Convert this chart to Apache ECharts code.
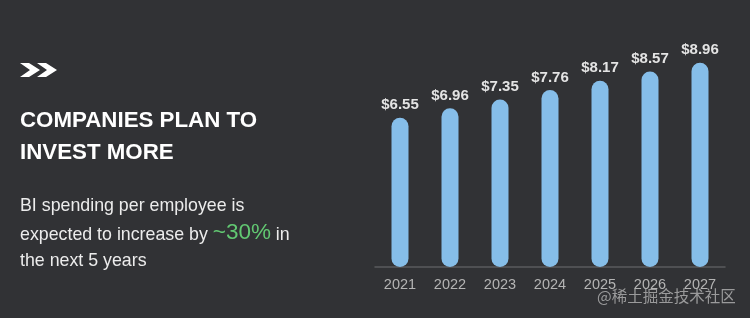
<!DOCTYPE html>
<html>
<head>
<meta charset="utf-8">
<script src="https://cdn.jsdelivr.net/npm/echarts@6/dist/echarts.min.js"></script>
<style>
html,body{margin:0;padding:0;background:#313235;}
#chart{width:750px;height:318px;}
</style>
</head>
<body>
<div id="chart"></div>
<script>
const years = ['2021','2022','2023','2024','2025','2026','2027'];
const spending = [6.55, 6.96, 7.35, 7.76, 8.17, 8.57, 8.96];
const titleLines = ['COMPANIES PLAN TO', 'INVEST MORE'];
const bodyLine1 = 'BI spending per employee is';
const bodyLine2a = 'expected to increase by ';
const highlight = '~30%';
const bodyLine2b = ' in';
const bodyLine3 = 'the next 5 years';
const watermark = '@稀土掘金技术社区';

const chart = echarts.init(document.getElementById('chart'), null, {renderer:'canvas'});
const font = '"Liberation Sans", Arial, sans-serif';
function chevron(x){
  return {type:'polygon', shape:{points:[[x,63],[x+9,63],[x+20,70],[x+9,77],[x,77],[x+10,70]]}, style:{fill:'#ffffff'}};
}
chart.setOption({
  backgroundColor:'#313235',
  animation:false,
  grid:{left:375, right:25, top:39, bottom:51},
  xAxis:{
    type:'category', data:years,
    axisLine:{lineStyle:{color:'#5a5b5e', width:1.5}},
    axisTick:{show:false},
    axisLabel:{color:'#b4b4b4', fontSize:14.5, fontFamily:font, margin:10}
  },
  yAxis:{type:'value', min:0, max:10, show:false, splitLine:{show:false}},
  series:[{
    type:'bar', data:spending, barWidth:17,
    itemStyle:{color:'#86bee9', borderRadius:9},
    label:{show:true, position:'top', distance:5, color:'#e4e4e4', fontSize:15, fontWeight:'bold', fontFamily:font,
      formatter:p=>'$'+p.value.toFixed(2)}
  }],
  graphic:[
    chevron(20), chevron(37),
    {type:'text', left:20, top:110, style:{text:titleLines[0], fill:'#ffffff', font:'bold 22.3px '+font}},
    {type:'text', left:20, top:142, style:{text:titleLines[1], fill:'#ffffff', font:'bold 22.3px '+font}},
    {type:'text', left:20, top:197, style:{text:bodyLine1, fill:'#ececec', font:'17.8px '+font}},
    {type:'text', left:20, top:221, style:{
      text:'{a|'+bodyLine2a+'}{g|'+highlight+'}{a|'+bodyLine2b+'}',
      rich:{
        a:{fill:'#ececec', font:'17.8px '+font, verticalAlign:'bottom'},
        g:{fill:'#62c872', font:'22.5px '+font, verticalAlign:'bottom'}
      }}},
    {type:'text', left:20, top:252, style:{text:bodyLine3, fill:'#ececec', font:'17.8px '+font}},
    {type:'text', left:597, top:288, style:{text:watermark, fill:'rgba(190,190,190,0.75)', font:'15.5px "Noto Sans CJK SC", sans-serif'}}
  ]
});
</script>
</body>
</html>
